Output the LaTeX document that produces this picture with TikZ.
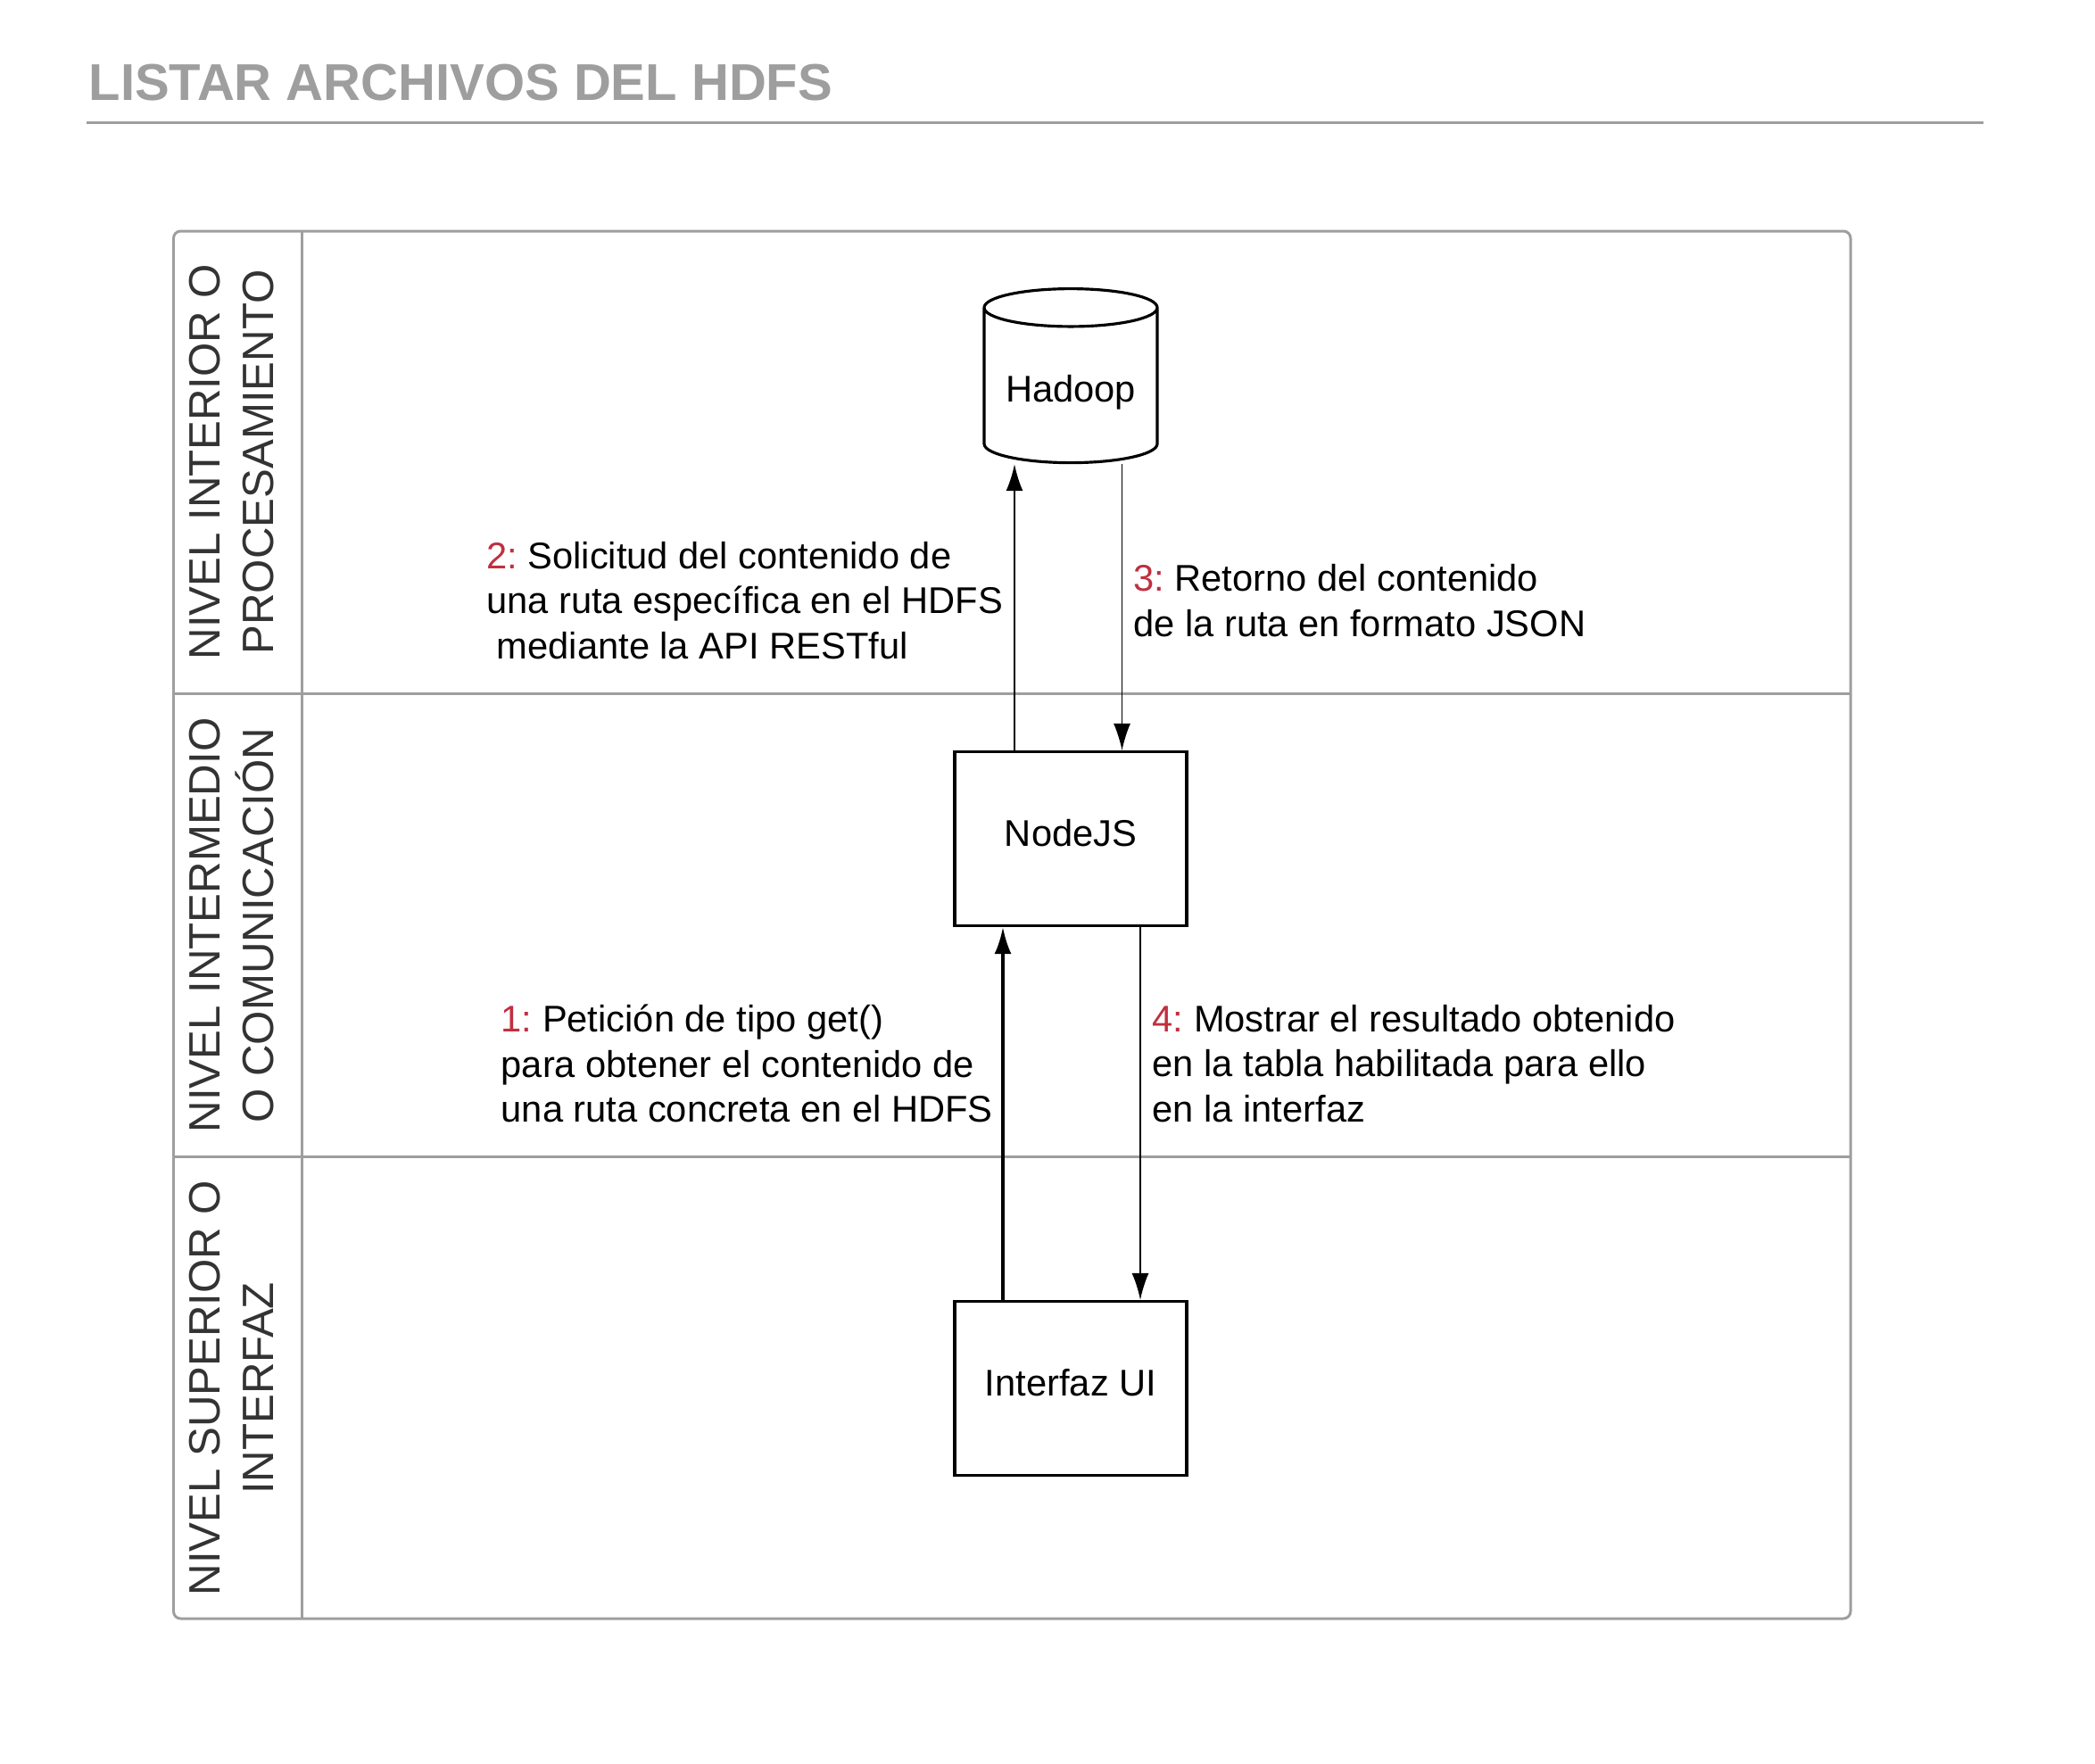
\documentclass[tikz,border=0pt]{standalone}
\usepackage{fontspec}
\setmainfont{Liberation Sans}
\usetikzlibrary{shapes.geometric,arrows.meta}

\definecolor{gris}{HTML}{9E9E9E}
\definecolor{grisosc}{HTML}{333333}
\definecolor{rojo}{HTML}{BF3040}
\newcommand{\paso}[1]{\textcolor{rojo}{#1:}}

\begin{document}
\frenchspacing
\begin{tikzpicture}[
        caja/.style={draw, line width=0.9pt, minimum width=2.6cm, minimum height=1.95cm, text height=0.8em, text depth=0.32em, font=\fontsize{11.85}{14.35}\selectfont},
        nivel/.style={rotate=90, align=center, text=grisosc, font=\fontsize{14}{17.2}\selectfont},
        nota/.style={anchor=west, align=left, inner sep=0pt, font=\fontsize{11.85}{14.35}\selectfont},
        flecha/.style={-{Latex[length=3mm,width=1.9mm]}, line width=0.6pt},
        marco/.style={draw=gris, line width=0.85pt}
    ]
    \useasboundingbox (0,0) rectangle (23.48,-19.76);

    % titulo
    \node[anchor=base west, inner sep=0pt, text=gris, font=\fontsize{16.5}{20}\selectfont\bfseries] (titulo) at (0.99,-1.12) {LISTAR ARCHIVOS DEL HDFS};
    \draw[gris, line width=0.9pt] (0.97,-1.377) -- (22.23,-1.377);

    % carriles
    \draw[marco, rounded corners=0.8mm] (1.945,-2.59) rectangle (20.74,-18.14);
    \draw[marco] (3.38,-2.59) -- (3.38,-18.14);
    \draw[marco] (1.945,-7.775) -- (20.74,-7.775);
    \draw[marco] (1.945,-12.968) -- (20.74,-12.968);

    \node[nivel] (interior) at (2.595,-5.18) {NIVEL INTERIOR O\\PROCESAMIENTO};
    \node[nivel] (intermedio) at (2.595,-10.37) {NIVEL INTERMEDIO\\O COMUNICACIÓN};
    \node[nivel] (superior) at (2.595,-15.56) {NIVEL SUPERIOR O\\INTERFAZ};

    % componentes
    \node[draw, line width=0.9pt, cylinder, shape border rotate=90, aspect=0.25, minimum width=1.94cm, minimum height=1.95cm, text height=1em, font=\fontsize{11.85}{14.35}\selectfont] (hadoop) at (12.0,-4.375) {Hadoop};
    \node[caja] (nodejs) at (12.0,-9.40) {NodeJS};
    \node[caja] (interfaz) at (12.0,-15.56) {Interfaz UI};

    % mensajes
    \draw[flecha, line width=1pt] ([xshift=-7.6mm]interfaz.north) -- ([xshift=-7.6mm]nodejs.south);
    \draw[flecha] ([xshift=-6.3mm]nodejs.north) -- ([xshift=-6.3mm]hadoop.south);
    \draw[flecha, line width=0.5pt] ([xshift=5.75mm]hadoop.south) -- ([xshift=5.75mm]nodejs.north);
    \draw[flecha] ([xshift=7.8mm]nodejs.south) -- ([xshift=7.8mm]interfaz.north);

    \node[nota] (m1) at (5.61,-11.92) {\paso{1} Petición de tipo get()\\para obtener el contenido de\\una ruta concreta en el HDFS};
    \node[nota] (m2) at (5.446,-6.73) {\paso{2} Solicitud del contenido de\\una ruta específica en el HDFS\\~mediante la API RESTful};
    \node[nota] (m3) at (12.696,-6.73) {\paso{3} Retorno del contenido\\de la ruta en formato JSON};
    \node[nota] (m4) at (12.91,-11.92) {\paso{4} Mostrar el resultado obtenido\\en la tabla habilitada para ello\\en la interfaz};
\end{tikzpicture}
\end{document}
